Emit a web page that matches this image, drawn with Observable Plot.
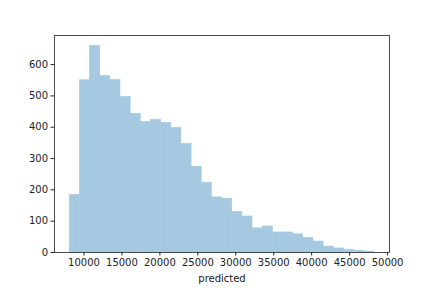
<!DOCTYPE html>
<html>
<head>
<meta charset="utf-8">
<script src="https://cdn.jsdelivr.net/npm/d3@7"></script>
<script src="https://cdn.jsdelivr.net/npm/@observablehq/plot@0.6"></script>
<style>
  html, body { margin: 0; padding: 0; background: #fff; }
</style>
</head>
<body>
<div id="chart"></div>
<script>
// Histogram bin edges (predicted value) and counts per bin
const binEdges = [8120, 9458, 10796, 12134, 13472, 14810, 16148, 17486, 18824, 20162,
  21500, 22838, 24176, 25514, 26852, 28190, 29528, 30866, 32204, 33542,
  34880, 36218, 37556, 38894, 40232, 41570, 42908, 44246, 45584, 46922, 48260];
const binCounts = [184, 550, 660, 563, 551, 497, 443, 417, 424, 414,
  398, 347, 274, 223, 176, 172, 130, 115, 77, 83,
  64, 64, 58, 47, 35, 19, 13, 9, 6, 3];
const xTicks = [10000, 15000, 20000, 25000, 30000, 35000, 40000, 45000, 50000];
const yTicks = [0, 100, 200, 300, 400, 500, 600];
const xLabel = "predicted";

const bins = binCounts.map((c, i) => ({x1: binEdges[i], x2: binEdges[i + 1], count: c}));

const chart = Plot.plot({
  width: 432,
  height: 288,
  marginLeft: 54,
  marginRight: 43,
  marginTop: 35,
  marginBottom: 36,
  style: {fontFamily: "DejaVu Sans", fontSize: "10px", color: "#222", background: "#fff"},
  x: {domain: [6113, 50256]},
  y: {domain: [0, 693]},
  marks: [
    Plot.rectY(bins, {x1: "x1", x2: "x2", y: "count", fill: "#a5c9e1", stroke: "#a5c9e1", strokeWidth: 0.6}),
    Plot.axisX({ticks: xTicks, tickFormat: d3.format("d"), tickSize: 3.5, tickPadding: 3, label: xLabel,
      labelAnchor: "center", labelArrow: "none", labelOffset: 29, fontSize: 10}),
    Plot.axisY({ticks: yTicks, tickFormat: d3.format("d"), tickSize: 3.5, tickPadding: 3, label: null, fontSize: 10}),
    Plot.frame({stroke: "#222", strokeWidth: 0.8})
  ]
});
document.getElementById("chart").appendChild(chart);
</script>
</body>
</html>
